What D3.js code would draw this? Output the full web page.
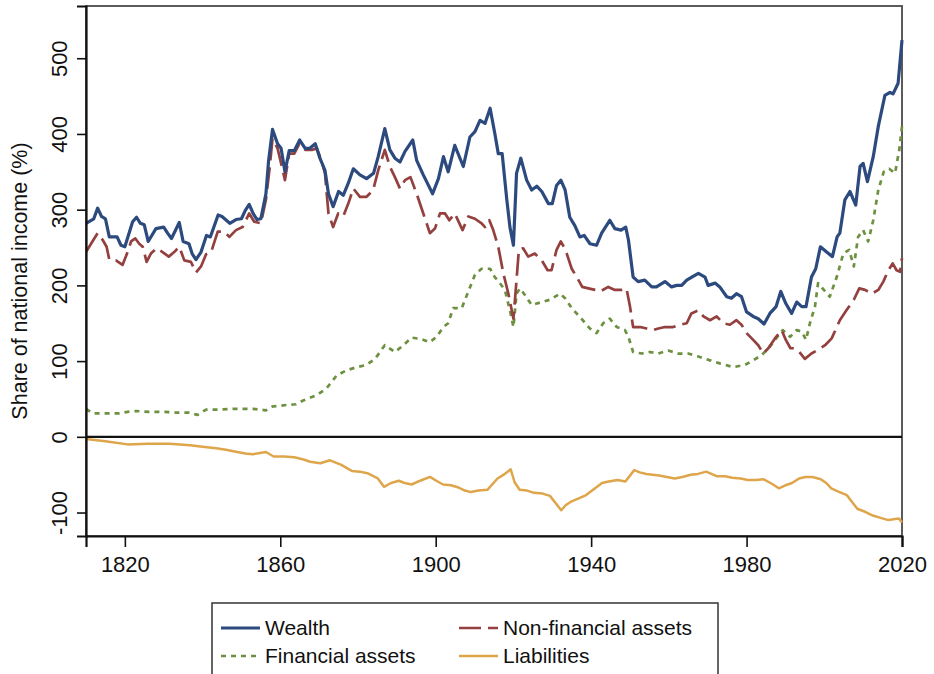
<!DOCTYPE html>
<html><head><meta charset="utf-8">
<script src="https://cdn.jsdelivr.net/npm/d3@7"></script>
<style>body{margin:0;background:#fff}svg{display:block}text{font-family:"Liberation Sans",Arial,sans-serif;fill:#111}</style>
</head><body><svg id="c" width="934" height="674"></svg>
<script>
const yTicks = [-100, 0, 100, 200, 300, 400, 500];
const xTicks = [1820, 1860, 1900, 1940, 1980, 2020];
const seriesNames = ["Wealth", "Non-financial assets", "Financial assets", "Liabilities"];

const wealth = [[1810,282],[1812,288],[1813,302],[1814,291],[1815,288],[1816,264],[1818,264],[1819,253],[1820,251],[1822,284],[1823,290],[1824,282],[1825,280],[1826,258],[1828,275],[1830,277],[1831,269],[1832,262],[1834,283],[1835,258],[1836.5,255],[1837.3,242],[1838.3,234],[1839.6,244],[1841,266],[1842,264],[1844,293],[1845,291],[1847,282],[1848.6,287],[1850,288],[1851,299],[1852,307],[1853,295],[1854,287],[1855,288],[1856.3,321],[1857,365],[1858,406],[1859.3,387],[1860.2,381],[1861.2,350],[1862.3,378],[1863.6,378],[1865,392],[1866.4,381],[1867.6,381],[1869,387],[1870.2,368],[1871.5,352],[1872.4,321],[1873.6,304],[1875,324],[1876.2,319],[1877.5,335],[1878.8,354],[1880.5,346],[1882.2,341],[1884,348],[1885.2,370],[1886.9,407],[1888.2,379],[1889.5,368],[1890.8,363],[1892.1,377],[1894.1,392],[1895.1,365],[1896.8,346],[1899.2,321],[1900.7,341],[1902,370],[1903.2,350],[1904.9,385],[1907.1,357],[1908.8,396],[1910.1,403],[1911.4,418],[1912.7,414],[1914,434],[1915.2,401],[1916.1,374],[1917.1,374],[1918.3,313],[1919.1,277],[1920,253],[1920.8,348],[1921.9,368],[1923.4,339],[1924.7,326],[1926,331],[1927.3,324],[1929,308],[1930,308],[1931.1,332],[1932.2,339],[1933.3,326],[1934.5,290],[1935.8,279],[1937.1,264],[1938.2,266],[1939.7,255],[1941.4,253],[1942.7,269],[1944.8,286],[1946.1,275],[1947.7,273],[1948.9,277],[1949.6,260],[1950.8,211],[1952.1,205],[1953.8,207],[1955.6,198],[1956.8,198],[1959,205],[1960.7,198],[1962,200],[1963.3,200],[1964.6,207],[1965.9,211],[1967.6,216],[1969.3,211],[1970.1,200],[1971.9,203],[1973.1,198],[1974.9,185],[1976.1,183],[1977.4,189],[1978.7,185],[1980,165],[1981.7,159],[1983,156],[1984.5,149],[1986,163],[1987.6,172],[1988.8,192],[1990.1,176],[1991.6,163],[1992.9,178],[1994.2,172],[1995.3,172],[1996.7,211],[1997.8,222],[1999,251],[2000.6,244],[2002.1,238],[2003.3,264],[2004,269],[2005.3,313],[2006.6,324],[2008.1,306],[2009.2,357],[2010,361],[2011.1,337],[2012.6,370],[2013.9,410],[2015.6,451],[2016.9,455],[2017.7,453],[2019,467],[2020,524]];

const nonFinancial = [[1810,244],[1811.3,255],[1813,269],[1814.3,260],[1815.3,251],[1816,234],[1817.7,233],[1819.4,227],[1820.7,244],[1821.6,258],[1822.7,262],[1823.7,255],[1824.6,251],[1825.6,231],[1826.7,242],[1828.2,249],[1829.7,244],[1831.3,238],[1832.7,244],[1834,251],[1835.3,233],[1837,231],[1838.3,217],[1839.6,225],[1840.9,241],[1842.2,244],[1843.9,271],[1845.6,271],[1846.9,264],[1848.6,273],[1850.3,277],[1852,295],[1853.3,284],[1855,282],[1856.3,313],[1857.3,357],[1858,394],[1859.3,381],[1860.4,357],[1861.2,339],[1862.3,374],[1863.6,374],[1864.9,387],[1866.4,379],[1868.1,379],[1869.4,381],[1870.6,365],[1871.5,348],[1872.4,295],[1873.6,277],[1874.9,295],[1876.2,291],[1877.5,308],[1878.8,328],[1880.5,317],[1882.2,317],[1883.9,326],[1885.2,352],[1886.9,379],[1888.2,357],[1889.5,343],[1890.8,328],[1892.1,339],[1893.5,343],[1895.1,321],[1896.8,295],[1898.5,269],[1899.8,275],[1901.1,295],[1902.4,295],[1903.5,286],[1904.9,295],[1906.9,273],[1908.4,291],[1910.1,288],[1911.8,282],[1912.7,277],[1913.8,286],[1914.8,273],[1916.1,251],[1917.4,216],[1918.7,189],[1920,156],[1920.6,194],[1921.4,247],[1922.5,249],[1923.8,238],[1925.5,242],[1927.3,233],[1928.8,220],[1929.8,220],[1931.1,247],[1932.2,258],[1933.4,247],[1935,222],[1936.3,211],[1937.7,198],[1939.3,196],[1941,194],[1942.3,192],[1944.4,198],[1946.1,194],[1947.8,194],[1949.1,196],[1950,172],[1950.8,145],[1952.6,145],[1954.3,143],[1956,141],[1957.3,143],[1959,145],[1961.1,145],[1962.8,148],[1964.6,150],[1965.8,163],[1967.6,167],[1968.9,159],[1970.6,154],[1972.3,159],[1974,150],[1975.7,148],[1977.4,154],[1978.7,148],[1980,137],[1981.7,128],[1983,121],[1984.3,110],[1985.6,117],[1987.3,130],[1989,141],[1990.1,128],[1991.3,117],[1992.4,117],[1993.6,112],[1995,103],[1996.7,110],[1998.4,115],[2000.2,121],[2001.9,130],[2004,154],[2005.7,167],[2007.6,181],[2009,196],[2010.5,194],[2012.2,189],[2013.9,194],[2015.2,205],[2016.5,220],[2017.6,229],[2018.6,220],[2019.5,218],[2020,236]];

const financial = [[1810,37],[1811.7,31],[1815,31],[1818.6,31],[1820.7,33],[1822.9,34],[1826.3,33],[1829.7,33],[1833.2,32],[1836.6,32],[1838.7,29],[1840.9,36],[1844.3,36],[1848.6,37],[1852.9,37],[1856.3,35],[1858,40],[1861.5,42],[1864,43],[1865.9,48],[1869.4,55],[1871.9,64],[1874.5,81],[1877.1,88],[1879.7,92],[1882.2,95],[1884.4,103],[1886.9,121],[1889.5,112],[1891.7,121],[1893.8,131],[1896.4,129],[1898.5,125],[1900.2,132],[1902,145],[1903.2,150],[1904.5,170],[1906.7,170],[1908.4,192],[1910.1,214],[1911.8,222],[1914,222],[1915.2,211],[1916.5,203],[1917.8,194],[1919.1,167],[1920,145],[1920.8,189],[1921.7,196],[1923,187],[1924.7,174],[1927.3,178],[1929.4,181],[1932,189],[1933.3,183],[1935,170],[1937.5,156],[1939.7,143],[1941.4,137],[1943.1,150],[1944.8,156],[1946.6,145],[1948.7,141],[1949.6,132],[1950.8,112],[1953,110],[1955.1,112],[1957.3,110],[1959.8,114],[1962.4,110],[1965,110],[1967.6,106],[1970.6,101],[1973.1,97],[1976.6,92],[1979.6,95],[1981.7,101],[1983.9,108],[1986,119],[1988.2,134],[1989.3,141],[1991.2,132],[1992.9,141],[1994.2,139],[1995.3,128],[1996.3,150],[1997.6,172],[1998.4,203],[1999.9,194],[2001.4,185],[2003.2,211],[2004.9,242],[2006.4,247],[2007.6,225],[2008.7,264],[2010,273],[2011.3,258],[2012.6,286],[2013.9,326],[2015.3,350],[2016.7,354],[2018.2,348],[2019.3,379],[2020,410]];

const liabilities = [[1810,-3],[1815,-6],[1820.7,-10],[1826,-9],[1831.5,-9],[1836.8,-11],[1840,-13],[1843.5,-15],[1846,-17],[1848.9,-20],[1851,-22],[1852.9,-23],[1856.3,-20],[1858.3,-26],[1861,-26],[1863.6,-27],[1866,-30],[1867.7,-33],[1870.3,-35],[1872.8,-31],[1875.7,-37],[1878.4,-45],[1880.5,-46],[1882.4,-48],[1885.1,-55],[1886.7,-66],[1888.5,-61],[1890.5,-58],[1892,-61],[1893.8,-63],[1896,-58],[1898.5,-53],[1900.5,-59],[1901.9,-63],[1903.9,-64],[1905.9,-67],[1907.5,-71],[1909,-73],[1911,-71],[1913.3,-70],[1915.9,-55],[1917.5,-50],[1919.3,-43],[1920.3,-60],[1921.6,-70],[1923.5,-71],[1925.3,-74],[1927.5,-75],[1929.4,-78],[1932.3,-97],[1933.5,-90],[1934.7,-86],[1936.5,-82],[1938.7,-77],[1940.5,-70],[1942.8,-61],[1944.5,-59],[1946.8,-57],[1948.8,-59],[1951.1,-44],[1952.5,-47],[1954.2,-49],[1957.5,-51],[1959.5,-53],[1961.5,-55],[1963.5,-53],[1965.6,-50],[1967.5,-49],[1969.6,-46],[1972.3,-52],[1974.5,-52],[1976.3,-54],[1978.5,-55],[1980.3,-57],[1982.5,-57],[1984.3,-56],[1986.5,-62],[1988.3,-68],[1990,-64],[1991.7,-61],[1993.5,-55],[1995.1,-53],[1997,-53],[1999.1,-56],[2000.5,-61],[2001.8,-68],[2003.5,-72],[2005.8,-77],[2007,-85],[2008.5,-95],[2010.5,-99],[2012.5,-104],[2014.5,-107],[2016.5,-110],[2019.2,-108],[2020,-113]];

const colors = {"Wealth":"#2d4a7f","Non-financial assets":"#93403f","Financial assets":"#6d9140","Liabilities":"#dea54b"};
const dashes = {"Wealth":null,"Non-financial assets":"22,7","Financial assets":"5,5","Liabilities":null};
const widths = {"Wealth":3.2,"Non-financial assets":2.7,"Financial assets":2.7,"Liabilities":2.5};
const dataBy = {"Wealth":wealth,"Non-financial assets":nonFinancial,"Financial assets":financial,"Liabilities":liabilities};

const L = 86, R = 902, T = 6, B = 536;
const svg = d3.select("#c");
const x = d3.scaleLinear().domain([1810, 2020]).range([L, R]);
const y = d3.scaleLinear().domain([-131, 569]).range([B, T]);

svg.append("rect").attr("x", L).attr("y", T).attr("width", R - L).attr("height", B - T)
  .attr("fill", "#fff").attr("stroke", "#4a4a4a").attr("stroke-width", 1.8);

const plot = svg.append("g");
const line = d3.line().x(d => x(d[0])).y(d => y(d[1]));
["Financial assets", "Non-financial assets", "Liabilities", "Wealth"].forEach(n => {
  plot.append("path").datum(dataBy[n]).attr("d", line)
    .attr("fill", "none").attr("stroke", colors[n]).attr("stroke-width", widths[n])
    .attr("stroke-linejoin", "round")
    .attr("stroke-dasharray", dashes[n]);
});

svg.append("line").attr("x1", L).attr("x2", R).attr("y1", y(0)).attr("y2", y(0))
  .attr("stroke", "#111").attr("stroke-width", 2.2);

const yAxis = d3.axisLeft(y).tickValues(yTicks).tickSize(9).tickFormat(d3.format("d"));
const gy = svg.append("g").attr("transform", `translate(${L},0)`).call(yAxis);
gy.attr("font-family", null).attr("font-size", null);
gy.select(".domain").attr("stroke", "#111").attr("stroke-width", 2.2);
gy.selectAll(".tick line").attr("stroke", "#111").attr("stroke-width", 1.6);
gy.selectAll(".tick text").remove();
gy.selectAll(".tick").append("text")
  .attr("transform", "translate(-19,0) rotate(-90)")
  .attr("text-anchor", "middle").attr("font-size", 22).attr("fill", "#111")
  .text(d => d);

const xAxis = d3.axisBottom(x).tickValues(xTicks).tickSize(11).tickFormat(d3.format("d"));
const gx = svg.append("g").attr("transform", `translate(0,${B})`).call(xAxis);
gx.attr("font-family", null).attr("font-size", null);
gx.select(".domain").attr("stroke", "#111").attr("stroke-width", 2.2);
gx.selectAll(".tick line").attr("stroke", "#111").attr("stroke-width", 1.6);
gx.selectAll(".tick text").attr("font-size", 22).attr("fill", "#111").attr("y", 20).attr("dy", "0.71em");

svg.append("text").attr("transform", "translate(27,281) rotate(-90)")
  .attr("text-anchor", "middle").attr("font-size", 21.5).text("Share of national income (%)");

const lg = svg.append("g");
lg.append("rect").attr("x", 212).attr("y", 603).attr("width", 506).attr("height", 80)
  .attr("fill", "#fff").attr("stroke", "#333").attr("stroke-width", 1.5);
const pos = [[221, 628], [459, 628], [221, 656], [459, 656]];
seriesNames.forEach((n, i) => {
  const [px, py] = pos[i];
  lg.append("line").attr("x1", px).attr("x2", px + 39).attr("y1", py).attr("y2", py)
    .attr("stroke", colors[n]).attr("stroke-width", widths[n]).attr("stroke-dasharray", dashes[n]);
  lg.append("text").attr("x", px + 44).attr("y", py).attr("dy", "0.35em")
    .attr("font-size", 21).text(n);
});
</script></body></html>
